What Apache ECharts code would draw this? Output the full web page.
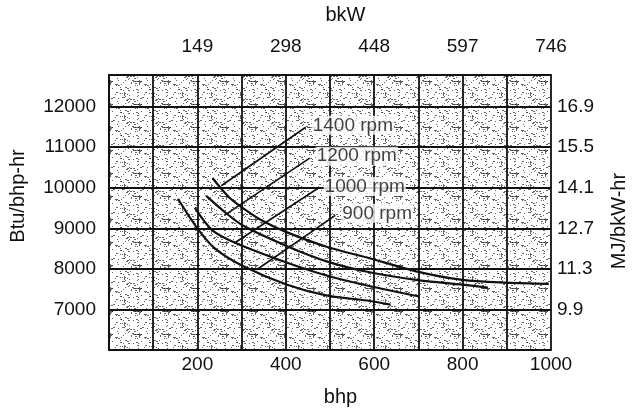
<!DOCTYPE html>
<html><head><meta charset="utf-8">
<script src="https://cdn.jsdelivr.net/npm/echarts@6/dist/echarts.min.js"></script>
<style>html,body{margin:0;padding:0;background:#fff}#c{width:637px;height:414px}</style>
</head><body><div id="c"></div>
<script>
// ---- data ----
const bhpLabelValues = [200, 400, 600, 800, 1000];
const bkwLabels = ['149', '298', '448', '597', '746'];
const btuTicks = [7000, 8000, 9000, 10000, 11000, 12000];
const mjLabels = ['9.9', '11.3', '12.7', '14.1', '15.5', '16.9'];
const rpmNames = ['1400 rpm', '1200 rpm', '1000 rpm', '900 rpm'];
const rpm1400 = [[234,10240],[272,9760],[303,9500],[345,9200],[403,8900],[494,8540],[584,8280],[695,7940],[800,7730],[900,7660],[995,7630]];
const rpm1200 = [[220,9800],[260,9420],[303,9070],[403,8560],[494,8180],[584,7930],[695,7730],[800,7610],[857,7540]];
const rpm1000 = [[194,9510],[234,8950],[288,8630],[403,8150],[494,7830],[584,7590],[702,7320]];
const rpm900  = [[156,9730],[200,9000],[240,8500],[303,8070],[403,7610],[494,7340],[584,7220],[637,7120]];
const leader1400 = [[254,10050],[445,11490]];
const leader1200 = [[261,9320],[454,10730]];
const leader1000 = [[283,8630],[472,9980]];
const leader900  = [[334,7980],[512,9320]];

// ---- texture for the plot area ----
function makePattern(){
  const c = document.createElement('canvas'); c.width = 29; c.height = 23;
  const g = c.getContext('2d'); g.fillStyle = '#fff'; g.fillRect(0,0,29,23);
  g.fillStyle = 'rgba(0,0,0,0.6)';
  for (let i = 0; i < 29; i++) for (let j = 0; j < 23; j++) {
    if (((i*37 + j*91 + i*j*13) % 97) < 9) g.fillRect(i, j, (i+j)%3===0 ? 2 : 1, 1);
  }
  return c;
}

const curves = [rpm1400, rpm1200, rpm1000, rpm900];
const leaders = [leader1400, leader1200, leader1000, leader900];
const font = "'Liberation Sans', Arial, sans-serif";
const ink = '#111';
const tickSize = 19, nameSize = 20;

const series = [];
curves.forEach((d, i) => series.push({
  type: 'line', name: rpmNames[i], data: d, smooth: 0.3, symbol: 'none',
  lineStyle: { color: ink, width: 2.2 }, z: 3
}));
leaders.forEach((d, i) => series.push({
  type: 'line', data: d, symbol: 'none',
  lineStyle: { color: ink, width: 1.7 }, z: 3
}));
series.push({
  type: 'scatter', symbolSize: 0, z: 5,
  data: leaders.map((d, i) => ({ value: d[d.length - 1], name: rpmNames[i] })),
  label: {
    show: true, position: 'right', distance: 6, formatter: p => p.name,
    fontFamily: font, fontSize: 19, color: ink, backgroundColor: '#fff',
    padding: [0, 1, 0, 1], offset: [0, -2]
  }
});

const chart = echarts.init(document.getElementById('c'), null, { renderer: 'canvas' });
chart.setOption({
  animation: false,
  backgroundColor: '#fff',
  grid: { left: 108, right: 80, top: 73, bottom: 64, show: true,
          backgroundColor: { image: makePattern(), repeat: 'repeat' }, borderWidth: 0 },
  xAxis: [{
    type: 'value', position: 'bottom', min: 0, max: 1000, interval: 100,
    name: 'bhp', nameLocation: 'middle', nameGap: 37,
    nameTextStyle: { fontFamily: font, fontSize: nameSize, color: ink, padding: [0, 0, 0, 21] },
    axisLine: { show: true, lineStyle: { color: ink, width: 2 } },
    axisTick: { show: false },
    splitLine: { show: true, lineStyle: { color: ink, width: 1.8 } },
    axisLabel: { margin: 5, fontFamily: font, fontSize: tickSize, color: ink,
      formatter: v => bhpLabelValues.includes(v) ? String(v) : '' }
  }, {
    type: 'value', position: 'top', min: 0, max: 1000, interval: 100,
    name: 'bkW', nameLocation: 'middle', nameGap: 50,
    nameTextStyle: { fontFamily: font, fontSize: nameSize, color: ink, padding: [0, 0, 0, 31] },
    axisLine: { show: true, lineStyle: { color: ink, width: 2 } },
    axisTick: { show: false }, splitLine: { show: false },
    axisLabel: { margin: 19, fontFamily: font, fontSize: tickSize, color: ink,
      formatter: v => { const k = bhpLabelValues.indexOf(v); return k >= 0 ? bkwLabels[k] : ''; } }
  }],
  yAxis: [{
    type: 'value', position: 'left', min: 6000, max: 12780, interval: 1000,
    name: 'Btu/bhp-hr', nameLocation: 'middle', nameGap: 81, nameRotate: 90,
    nameTextStyle: { fontFamily: font, fontSize: nameSize, color: ink, padding: [0, 0, 0, 33] },
    axisLine: { show: true, lineStyle: { color: ink, width: 2 } },
    axisTick: { show: false },
    splitLine: { show: true, lineStyle: { color: ink, width: 1.8 } },
    axisLabel: { margin: 13, fontFamily: font, fontSize: tickSize, color: ink,
      formatter: v => btuTicks.includes(v) ? String(v) : '' }
  }, {
    type: 'value', position: 'right', min: 6000, max: 12780, interval: 1000,
    name: 'MJ/bkW-hr', nameLocation: 'middle', nameGap: 58, nameRotate: 90,
    nameTextStyle: { fontFamily: font, fontSize: nameSize, color: ink, padding: [0, 17, 0, 0] },
    axisLine: { show: true, lineStyle: { color: ink, width: 2 } },
    axisTick: { show: false }, splitLine: { show: false },
    axisLabel: { margin: 6, fontFamily: font, fontSize: tickSize, color: ink,
      formatter: v => { const k = btuTicks.indexOf(v); return k >= 0 ? mjLabels[k] : ''; } }
  }],
  series: series
});
</script></body></html>
